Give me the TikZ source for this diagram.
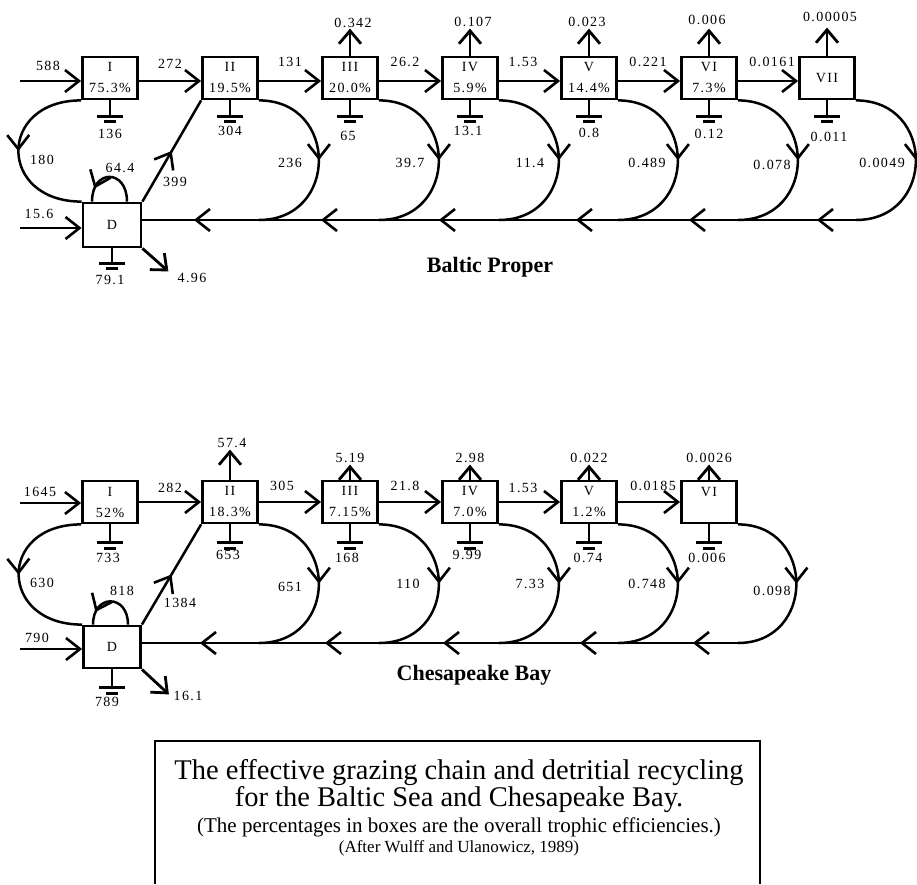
\documentclass[tikz,border=0pt]{standalone}
\usepackage{fontspec}
\setmainfont{Liberation Serif}
\newfontfamily\numfont[LetterSpace=10]{Liberation Serif}
\usetikzlibrary{arrows.meta,decorations.markings}
\tikzset{barbtip/.tip={Straight Barb[length=14pt,width=22pt,line width=2.6pt]},trophbox/.style={draw,line width=2.8pt,minimum width=55pt,minimum height=42pt,inner sep=0pt,align=center,font=\numfont\fontsize{14}{21}\selectfont},flow/.style={draw,line width=2.7pt,-{barbtip}},export/.style={draw,line width=2.8pt,-{Straight Barb[length=13pt,width=22pt,line width=2.8pt]}},sink/.style={draw,line width=2.6pt},sinkbar/.style={draw,line width=3.4pt},recycle/.style={draw,line width=2.5pt,postaction={decorate},decoration={markings,mark=at position #1 with {\arrow{barbtip}}}},recycle/.default=0.5,flowlabel/.style={font=\numfont\fontsize{14}{16}\selectfont,inner sep=1pt},sitetitle/.style={font=\bfseries\fontsize{22}{24}\selectfont},captionline/.style={font=\fontsize{#1}{#1}\selectfont,inner sep=0pt,anchor=base}}
\begin{document}
\begin{tikzpicture}[x=1pt,y=-1pt]
\useasboundingbox (0,0) rectangle (917,884);
\fill[white] (0,0) rectangle (917,884);
% Baltic Proper
\node[trophbox] (bI) at (110,78) {I\\75.3\%};\node[trophbox] (bII) at (230,78) {II\\19.5\%};\node[trophbox] (bIII) at (350,78) {III\\20.0\%};\node[trophbox] (bIV) at (470,78) {IV\\5.9\%};
\node[trophbox] (bV) at (589,78) {V\\14.4\%};\node[trophbox] (bVI) at (709,78) {VI\\7.3\%};\node[trophbox] (bVII) at (827,78) {VII};
\node[trophbox,minimum width=58pt,minimum height=44pt] (bD) at (112,225) {D};
\coordinate (inBI) at (20,81);\coordinate (inBD) at (20,228);\coordinate (retB) at (0,220);
\draw[flow] (inBI) -- ([yshift=-3pt]bI.west);\draw[flow] ([yshift=-3pt]bI.east) -- ([yshift=-3pt]bII.west);\draw[flow] ([yshift=-3pt]bII.east) -- ([yshift=-3pt]bIII.west);\draw[flow] ([yshift=-3pt]bIII.east) -- ([yshift=-3pt]bIV.west);
\draw[flow] ([yshift=-3pt]bIV.east) -- ([yshift=-3pt]bV.west);\draw[flow] ([yshift=-3pt]bV.east) -- ([yshift=-3pt]bVI.west);\draw[flow] ([yshift=-3pt]bVI.east) -- ([yshift=-3pt]bVII.west);
\node[flowlabel] (bfI) at (48,66) {588};\node[flowlabel] (bfII) at (170,64) {272};\node[flowlabel] (bfIII) at (290,62) {131};\node[flowlabel] (bfIV) at (405,62) {26.2};\node[flowlabel] (bfV) at (523,62) {1.53};\node[flowlabel] (bfVI) at (648,62) {0.221};\node[flowlabel] (bfVII) at (772,62) {0.0161};
\draw[export] (bIII.north) -- ++(0,-27) coordinate (oBIII);\draw[export] (bIV.north) -- ++(0,-27) coordinate (oBIV);\draw[export] (bV.north) -- ++(0,-27) coordinate (oBV);\draw[export] (bVI.north) -- ++(0,-27) coordinate (oBVI);\draw[export] (bVII.north) -- ++(0,-28) coordinate (oBVII);
\node[flowlabel] (beIII) at (353,23) {0.342};\node[flowlabel] (beIV) at (473,22) {0.107};\node[flowlabel] (beV) at (587,22) {0.023};\node[flowlabel] (beVI) at (707,20) {0.006};\node[flowlabel] (beVII) at (830,17) {0.00005};
\foreach \b in {bI,bII,bIII,bIV,bV,bVI,bVII}{\draw[sink] (\b.south) -- ++(0,16) coordinate (g\b);\draw[sink] (g\b) ++(-13,0) -- ++(26,0);\draw[sinkbar] (g\b) ++(-6,5) -- ++(12,0);}
\draw[sink] (bD.south) -- ++(0,15) coordinate (gbD);\draw[sink] (gbD) ++(-13,0) -- ++(26,0);\draw[sinkbar] (gbD) ++(-6,5) -- ++(12,0);
\node[flowlabel] (bgI) at (110,134) {136};\node[flowlabel] (bgII) at (230,131) {304};\node[flowlabel] (bgIII) at (348,136) {65};\node[flowlabel] (bgIV) at (468,131) {13.1};\node[flowlabel] (bgV) at (589,133) {0.8};\node[flowlabel] (bgVI) at (709,134) {0.12};\node[flowlabel] (bgVII) at (829,137) {0.011};\node[flowlabel] (bgD) at (110,280) {79.1};
\coordinate (rBII) at (bII.south east |- retB);\coordinate (rBIII) at (bIII.south east |- retB);\coordinate (rBIV) at (bIV.south east |- retB);\coordinate (rBV) at (bV.south east |- retB);\coordinate (rBVI) at (bVI.south east |- retB);\coordinate (rBVII) at (bVII.south east |- retB);
\draw[recycle] (bII.south east) .. controls +(80,0) and +(80,0) .. (rBII);\draw[recycle] (bIII.south east) .. controls +(80,0) and +(80,0) .. (rBIII);\draw[recycle] (bIV.south east) .. controls +(80,0) and +(80,0) .. (rBIV);
\draw[recycle] (bV.south east) .. controls +(80,0) and +(80,0) .. (rBV);\draw[recycle] (bVI.south east) .. controls +(80,0) and +(80,0) .. (rBVI);\draw[recycle] (bVII.south east) .. controls +(80,0) and +(80,0) .. (rBVII);
\draw[line width=2.5pt,postaction={decorate},decoration={markings,mark=at position 39pt with {\arrow{barbtip}},mark=at position 167pt with {\arrow{barbtip}},mark=at position 280pt with {\arrow{barbtip}},mark=at position 417pt with {\arrow{barbtip}},mark=at position 535pt with {\arrow{barbtip}},mark=at position 662pt with {\arrow{barbtip}}}] (rBVII) -- (rBVII -| bD.east);
\draw[recycle] (bI.south west) .. controls +(-84,0) and +(-84,0) .. (bD.north west);
\draw[recycle] (bD.north east) -- (bII.south west);
\draw[recycle=0.8] ([xshift=15pt]bD.north) .. controls +(0,-33) and +(0,-33) .. ([xshift=-20pt]bD.north);
\draw[flow] (inBD) -- (inBD -| bD.west);\draw[export] (bD.south east) -- ++(26,23) coordinate (oBD);
\node[flowlabel] (brI) at (42,160) {180};\node[flowlabel] (brII) at (290,163) {236};\node[flowlabel] (brIII) at (410,163) {39.7};\node[flowlabel] (brIV) at (530,163) {11.4};\node[flowlabel] (brV) at (647,163) {0.489};\node[flowlabel] (brVI) at (772,165) {0.078};\node[flowlabel] (brVII) at (882,163) {0.0049};
\node[flowlabel] (bloopD) at (120,168) {64.4};\node[flowlabel] (bupD) at (175,182) {399};\node[flowlabel] (binD) at (39,214) {15.6};\node[flowlabel] (bexD) at (192,278) {4.96};
\node[sitetitle] (bname) at (490,267) {Baltic Proper};
% Chesapeake Bay
\node[trophbox] (cI) at (110,502) {I\\52\%};\node[trophbox] (cII) at (230,502) {II\\18.3\%};\node[trophbox] (cIII) at (350,502) {III\\7.15\%};\node[trophbox] (cIV) at (470,502) {IV\\7.0\%};
\node[trophbox] (cV) at (589,502) {V\\1.2\%};\node[trophbox] (cVI) at (709,502) {VI\\\mbox{}};
\node[trophbox,minimum width=57pt] (cD) at (112,647) {D};
\coordinate (inCI) at (20,503);\coordinate (inCD) at (20,649);\coordinate (retC) at (0,643);
\draw[flow] (inCI) -- (inCI -| cI.west);\draw[flow] (cI.east) -- (cII.west);\draw[flow] (cII.east) -- (cIII.west);\draw[flow] (cIII.east) -- (cIV.west);\draw[flow] (cIV.east) -- (cV.west);\draw[flow] (cV.east) -- (cVI.west);
\node[flowlabel] (cfI) at (40,492) {1645};\node[flowlabel] (cfII) at (170,488) {282};\node[flowlabel] (cfIII) at (282,486) {305};\node[flowlabel] (cfIV) at (405,486) {21.8};\node[flowlabel] (cfV) at (523,488) {1.53};\node[flowlabel] (cfVI) at (653,486) {0.0185};
\draw[export] (cII.north) -- ++(0,-30) coordinate (oCII);\draw[export] (cIII.north) -- ++(0,-15) coordinate (oCIII);\draw[export] (cIV.north) -- ++(0,-15) coordinate (oCIV);\draw[export] (cV.north) -- ++(0,-15) coordinate (oCV);\draw[export] (cVI.north) -- ++(0,-15) coordinate (oCVI);
\node[flowlabel] (ceII) at (232,443) {57.4};\node[flowlabel] (ceIII) at (350,458) {5.19};\node[flowlabel] (ceIV) at (470,458) {2.98};\node[flowlabel] (ceV) at (589,458) {0.022};\node[flowlabel] (ceVI) at (709,458) {0.0026};
\foreach \c in {cI,cII,cIII,cIV,cV,cVI}{\draw[sink] (\c.south) -- ++(0,18) coordinate (g\c);\draw[sink] (g\c) ++(-13,0) -- ++(26,0);\draw[sinkbar] (g\c) ++(-6,6) -- ++(12,0);}
\draw[sink] (cD.south) -- ++(0,18) coordinate (gcD);\draw[sink] (gcD) ++(-13,0) -- ++(26,0);\draw[sinkbar] (gcD) ++(-6,6) -- ++(12,0);
\node[flowlabel] (cgI) at (108,558) {733};\node[flowlabel] (cgII) at (228,555) {653};\node[flowlabel] (cgIII) at (347,558) {168};\node[flowlabel] (cgIV) at (467,555) {9.99};\node[flowlabel] (cgV) at (588,558) {0.74};\node[flowlabel] (cgVI) at (707,558) {0.006};\node[flowlabel] (cgD) at (107,702) {789};
\coordinate (rCII) at (cII.south east |- retC);\coordinate (rCIII) at (cIII.south east |- retC);\coordinate (rCIV) at (cIV.south east |- retC);\coordinate (rCV) at (cV.south east |- retC);\coordinate (rCVI) at (cVI.south east |- retC);
\draw[recycle] (cII.south east) .. controls +(80,0) and +(80,0) .. (rCII);\draw[recycle] (cIII.south east) .. controls +(80,0) and +(80,0) .. (rCIII);\draw[recycle] (cIV.south east) .. controls +(80,0) and +(80,0) .. (rCIV);
\draw[recycle] (cV.south east) .. controls +(80,0) and +(80,0) .. (rCV);\draw[recycle] (cVI.south east) .. controls +(78,0) and +(78,0) .. (rCVI);
\draw[line width=2.5pt,postaction={decorate},decoration={markings,mark=at position 45pt with {\arrow{barbtip}},mark=at position 158pt with {\arrow{barbtip}},mark=at position 295pt with {\arrow{barbtip}},mark=at position 413pt with {\arrow{barbtip}},mark=at position 538pt with {\arrow{barbtip}}}] (rCVI) -- (rCVI -| cD.east);
\draw[recycle] (cI.south west) .. controls +(-84,0) and +(-84,0) .. (cD.north west);
\draw[recycle] (cD.north east) -- (cII.south west);
\draw[recycle=0.8] ([xshift=16pt]cD.north) .. controls +(0,-31) and +(0,-31) .. ([xshift=-19pt]cD.north);
\draw[flow] (inCD) -- (inCD -| cD.west);\draw[export] (cD.south east) -- ++(27,25) coordinate (oCD);
\node[flowlabel] (crI) at (42,583) {630};\node[flowlabel] (crII) at (290,587) {651};\node[flowlabel] (crIII) at (408,584) {110};\node[flowlabel] (crIV) at (530,584) {7.33};\node[flowlabel] (crV) at (647,584) {0.748};\node[flowlabel] (crVI) at (772,591) {0.098};
\node[flowlabel] (cloopD) at (122,591) {818};\node[flowlabel] (cupD) at (180,603) {1384};\node[flowlabel] (cinD) at (37,638) {790};\node[flowlabel] (cexD) at (188,696) {16.1};
\node[sitetitle] (cname) at (474,675) {Chesapeake Bay};
% caption
\draw[line width=2.6pt] (155,884) -- (155,741) -- (760,741) -- (760,884);
\node[captionline=28.5] (capA) at (459,779) {The effective grazing chain and detritial recycling};
\node[captionline=28.5] (capB) at (459,806) {for the Baltic Sea and Chesapeake Bay.};
\node[captionline=21] (capC) at (459,832) {(The percentages in boxes are the overall trophic efficiencies.)};
\node[captionline=17] (capD) at (459,852) {(After Wulff and Ulanowicz, 1989)};
\end{tikzpicture}
\end{document}
